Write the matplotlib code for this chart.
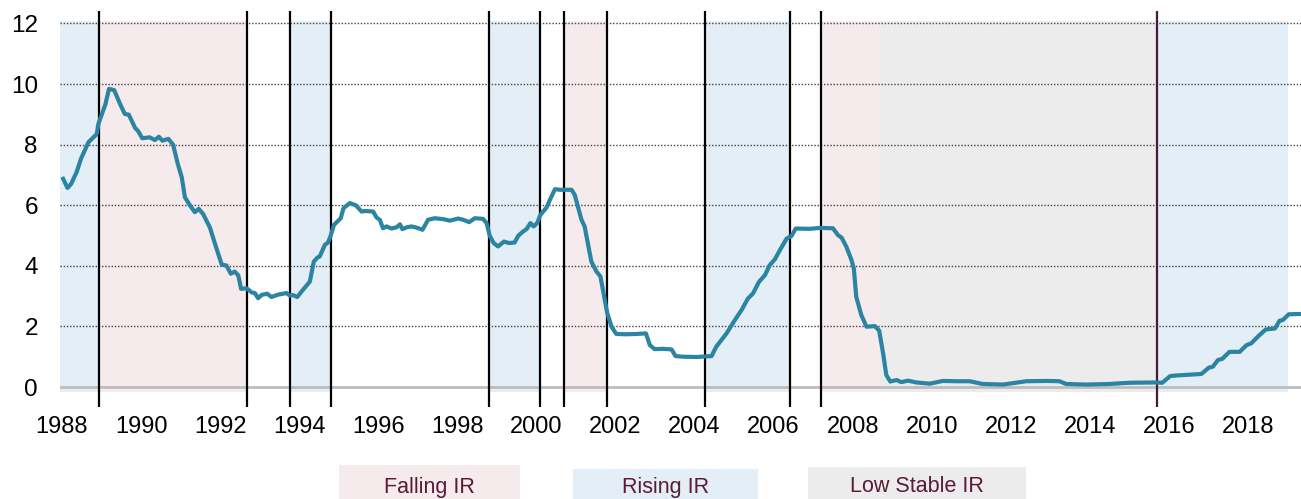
import matplotlib
matplotlib.use("Agg")
import matplotlib.pyplot as plt
from matplotlib.patches import Rectangle

# fed funds rate (decimal year, percent)
years = [1988.03, 1988.14, 1988.23, 1988.37, 1988.48, 1988.67, 1988.88, 1988.92,
         1989.10, 1989.19, 1989.32, 1989.47, 1989.59, 1989.69, 1989.85, 1989.93,
         1990.03, 1990.22, 1990.35, 1990.45, 1990.54, 1990.69, 1990.81, 1990.93,
         1991.03, 1991.11, 1991.24, 1991.36, 1991.46, 1991.57, 1991.74, 1991.87,
         1992.04, 1992.16, 1992.27, 1992.37, 1992.46, 1992.53, 1992.67, 1992.80,
         1992.88, 1992.96, 1993.05, 1993.19, 1993.30, 1993.47, 1993.60, 1993.68,
         1993.76, 1993.85, 1993.95, 1994.06, 1994.17, 1994.27, 1994.37, 1994.46,
         1994.52, 1994.65, 1994.73, 1994.79, 1994.88, 1994.99, 1995.05, 1995.12,
         1995.28, 1995.43, 1995.58, 1995.66, 1995.87, 1995.96, 1996.04, 1996.12,
         1996.21, 1996.33, 1996.46, 1996.55, 1996.61, 1996.72, 1996.84, 1996.97,
         1997.12, 1997.26, 1997.43, 1997.64, 1997.81, 1998.02, 1998.15, 1998.30,
         1998.44, 1998.65, 1998.74, 1998.82, 1998.92, 1999.03, 1999.18, 1999.31,
         1999.45, 1999.54, 1999.66, 1999.75, 1999.85, 1999.93, 2000.02, 2000.10,
         2000.26, 2000.36, 2000.47, 2000.59, 2000.89, 2000.97, 2001.06, 2001.14,
         2001.22, 2001.31, 2001.39, 2001.52, 2001.62, 2001.73, 2001.79, 2001.90,
         2002.02, 2002.28, 2002.53, 2002.77, 2002.87, 2002.99, 2003.20, 2003.42,
         2003.52, 2003.71, 2004.05, 2004.43, 2004.55, 2004.81, 2005.02, 2005.19,
         2005.35, 2005.48, 2005.63, 2005.78, 2005.90, 2006.03, 2006.16, 2006.33,
         2006.45, 2006.56, 2006.91, 2007.17, 2007.50, 2007.63, 2007.72, 2007.84,
         2007.97, 2008.03, 2008.09, 2008.22, 2008.35, 2008.56, 2008.67, 2008.77,
         2008.85, 2008.95, 2009.11, 2009.23, 2009.40, 2009.61, 2009.95, 2010.28,
         2010.62, 2010.96, 2011.29, 2011.80, 2012.39, 2012.90, 2013.23, 2013.40,
         2013.91, 2014.50, 2015.00, 2015.68, 2015.83, 2016.03, 2016.18, 2016.82,
         2017.01, 2017.11, 2017.24, 2017.35, 2017.53, 2017.79, 2017.96, 2018.08,
         2018.27, 2018.45, 2018.68, 2018.80, 2018.88, 2019.03, 2019.33]
rates = [6.87, 6.57, 6.70, 7.09, 7.53, 8.08, 8.35, 8.68,
         9.34, 9.84, 9.80, 9.34, 9.01, 8.99, 8.55, 8.44,
         8.21, 8.24, 8.15, 8.26, 8.13, 8.19, 8.00, 7.36,
         6.92, 6.26, 5.99, 5.77, 5.88, 5.71, 5.27, 4.73,
         4.04, 4.01, 3.74, 3.81, 3.68, 3.24, 3.26, 3.12,
         3.10, 2.93, 3.04, 3.08, 2.97, 3.05, 3.08, 3.10,
         3.02, 3.03, 2.97, 3.15, 3.32, 3.48, 4.14, 4.27,
         4.31, 4.69, 4.77, 4.97, 5.35, 5.49, 5.57, 5.90,
         6.07, 6.00, 5.79, 5.81, 5.79, 5.59, 5.52, 5.24,
         5.30, 5.23, 5.27, 5.37, 5.21, 5.27, 5.30, 5.26,
         5.19, 5.52, 5.57, 5.54, 5.49, 5.56, 5.52, 5.44,
         5.57, 5.55, 5.41, 4.99, 4.75, 4.64, 4.80, 4.75,
         4.77, 4.99, 5.13, 5.21, 5.41, 5.30, 5.41, 5.68,
         5.93, 6.23, 6.53, 6.51, 6.51, 6.34, 5.90, 5.52,
         5.30, 4.69, 4.14, 3.81, 3.65, 2.88, 2.45, 1.99,
         1.75, 1.74, 1.75, 1.77, 1.38, 1.25, 1.26, 1.24,
         1.02, 1.00, 0.99, 1.02, 1.33, 1.77, 2.21, 2.54,
         2.92, 3.09, 3.47, 3.69, 4.02, 4.21, 4.52, 4.90,
         4.98, 5.23, 5.22, 5.25, 5.24, 5.01, 4.93, 4.63,
         4.19, 3.91, 2.98, 2.37, 1.99, 2.01, 1.86, 1.11,
         0.40, 0.18, 0.23, 0.16, 0.21, 0.15, 0.11, 0.20,
         0.19, 0.19, 0.10, 0.08, 0.19, 0.20, 0.19, 0.10,
         0.08, 0.10, 0.14, 0.15, 0.14, 0.36, 0.38, 0.43,
         0.64, 0.67, 0.89, 0.93, 1.16, 1.16, 1.38, 1.44,
         1.69, 1.90, 1.93, 2.19, 2.21, 2.40, 2.41]

# regimes (start, end, kind)
span_start = [1987.95, 1988.94, 1993.79, 1998.80, 2000.69, 2004.27, 2007.21, 2008.68, 2015.70]
span_end = [1988.94, 1992.67, 1994.80, 2000.10, 2001.79, 2006.41, 2008.68, 2015.70, 2019.02]
span_kind = ["rise", "fall", "rise", "rise", "fall", "rise", "fall", "low", "rise"]

breaks = [1988.94, 1992.67, 1993.78, 1994.80, 1998.80, 2000.10, 2000.69, 2001.79,
          2004.27, 2006.41, 2007.21]
last_break = 2015.70

legend_labels = ["Falling IR", "Rising IR", "Low Stable IR"]
xticks = list(range(1988, 2019, 2))
yticks = [0, 2, 4, 6, 8, 10, 12]

colors = {"fall": "#f5eaec", "rise": "#e4eef7", "low": "#ececec"}
line_col = "#2b84a1"

W, H = 1301, 499
fig = plt.figure(figsize=(W / 100, H / 100), dpi=100)
ax = fig.add_axes([60 / W, (H - 392) / H, (W - 60) / W, (392 - 21) / H])

for s, e, k in zip(span_start, span_end, span_kind):
    ax.axvspan(s, e, color=colors[k], lw=0, zorder=0)

for y in yticks[1:]:
    ax.axhline(y, color="#444444", lw=1, ls=(0, (1, 1.3)), zorder=1)
ax.axhline(0, color="#bdbdbd", lw=2, zorder=1)

ax.vlines(breaks, -0.66, 12.4, colors="black", lw=1.6, clip_on=False, zorder=3)
ax.vlines([last_break], -0.66, 12.4, colors="#4a1838", lw=1.6, clip_on=False, zorder=3)

ax.plot(years, rates, color=line_col, lw=3, zorder=4, solid_joinstyle="round")

ax.set_xlim(1987.95, 2019.34)
ax.set_ylim(-0.165, 12.08)
ax.set_xticks(xticks)
ax.set_yticks(yticks)
for sp in ax.spines.values():
    sp.set_visible(False)
ax.tick_params(length=0, labelsize=17)
ax.tick_params(axis="y", pad=16, labelsize=17.5)
ax.tick_params(axis="x", pad=17)
for lab in ax.get_xticklabels() + ax.get_yticklabels():
    lab.set_family("Liberation Sans")

# legend boxes under the chart
boxes = [(339, 520, 465), (573, 758, 469), (808, 1026, 467)]
for (x0, x1, y0), lab, k in zip(boxes, legend_labels, ["fall", "rise", "low"]):
    fig.patches.append(Rectangle((x0 / W, 0), (x1 - x0) / W, (H - y0) / H,
                                 transform=fig.transFigure, color=colors[k], lw=0))
    fig.text((x0 + x1) / 2 / W, (H - 487) / H, lab, ha="center", va="center",
             fontsize=15.5, color="#5a1a38",
             family=["Liberation Sans Narrow", "Liberation Sans"])

fig.savefig("out.png", dpi=100)
